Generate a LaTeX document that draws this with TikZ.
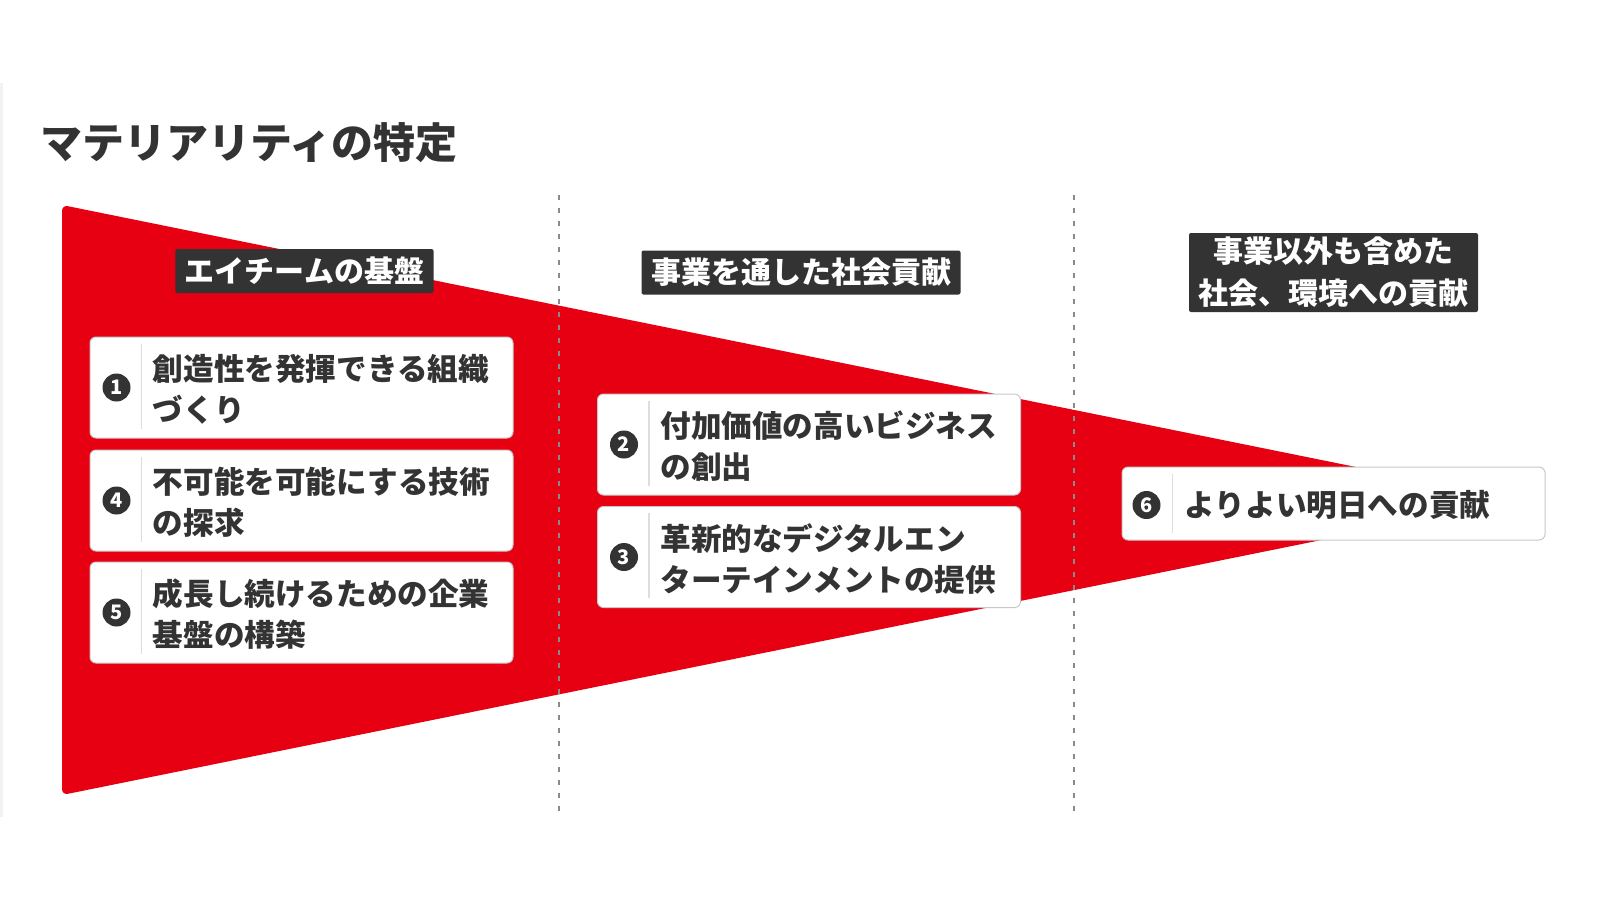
\documentclass[tikz,border=0pt]{standalone}
\usepackage{fontspec}
\setmainfont{Noto Sans CJK JP}
\usetikzlibrary{positioning}
\definecolor{mred}{HTML}{E60012}
\definecolor{mdark}{HTML}{333333}
\definecolor{mgray}{HTML}{8A8A8A}
\definecolor{mline}{HTML}{DDDDDD}
\definecolor{medge}{HTML}{C8C8C8}
\definecolor{mside}{HTML}{F2F2F2}

\begin{document}
\begin{tikzpicture}[x=0.5pt,y=-0.5pt,
  item/.style={draw=medge,line width=0.5pt,fill=white,rounded corners=3pt,minimum width=211.5pt,minimum height=50.5pt,inner sep=0pt},
  num/.style={circle,fill=mdark,text=white,minimum size=14pt,inner sep=0pt,font=\fontsize{10}{10}\selectfont\bfseries},
  itemtext/.style={anchor=west,align=left,inner sep=0pt,text=mdark,font=\fontsize{15.3}{20.5}\selectfont\bfseries},
  head/.style={fill=mdark,text=white,rounded corners=1pt,inner xsep=4.75pt,inner ysep=0pt,minimum height=22pt,align=center,font=\fontsize{15}{21}\selectfont\bfseries}]
 \useasboundingbox (0,0) rectangle (1600,900);
 \fill[mside] (0,83) rectangle (3,817);
 \node[anchor=west,inner sep=0pt,text=mdark,font=\fontsize{21}{21}\selectfont\bfseries] (title) at (40,143) {マテリアリティの特定};
 % funnel and column rules
 \fill[mred,rounded corners=3pt] (1519,500) -- (62,205) -- (62,795) -- cycle;
 \foreach \x in {559,1074}
   \draw[mgray,line width=1.4pt,dash pattern=on 2.5pt off 4pt] (\x,195) -- (\x,813);
 % column heads
 \node[head] (h1) at (304.5,271) {エイチームの基盤};
 \node[head] (h2) at (801,272.5) {事業を通した社会貢献};
 \node[head,minimum height=39.5pt] (h3) at (1333.5,272.5) {事業以外も含めた\\社会、環境への貢献};
 % items
 \foreach \k/\x/\y/\txt in {1/301.5/387.5/{創造性を発揮できる組織\\づくり},
     4/301.5/500.5/{不可能を可能にする技術\\の探求},
     5/301.5/612.5/{成長し続けるための企業\\基盤の構築},
     2/809/444.5/{付加価値の高いビジネス\\の創出},
     3/809/557/{革新的なデジタルエン\\ターテインメントの提供}} {
   \node[item] (b\k) at (\x,\y) {};
   \node[num] (n\k) at ([xshift=13.5pt]b\k.west) {\k};
   \draw[mline,line width=0.6pt] ([xshift=26pt,yshift=-3.5pt]b\k.north west) -- ([xshift=26pt,yshift=5pt]b\k.south west);
   \node[itemtext] (t\k) at ([xshift=31.5pt,yshift=-1pt]b\k.west) {\txt};
 }
 \node[item,minimum height=36.5pt] (b6) at (1333.5,503.5) {};
 \node[num] (n6) at ([xshift=12.5pt,yshift=-0.75pt]b6.west) {6};
 \draw[mline,line width=0.6pt] ([xshift=25.5pt,yshift=-3.5pt]b6.north west) -- ([xshift=25.5pt,yshift=4pt]b6.south west);
 \node[itemtext] (t6) at ([xshift=31.5pt,yshift=-0.75pt]b6.west) {よりよい明日への貢献};
\end{tikzpicture}
\end{document}
